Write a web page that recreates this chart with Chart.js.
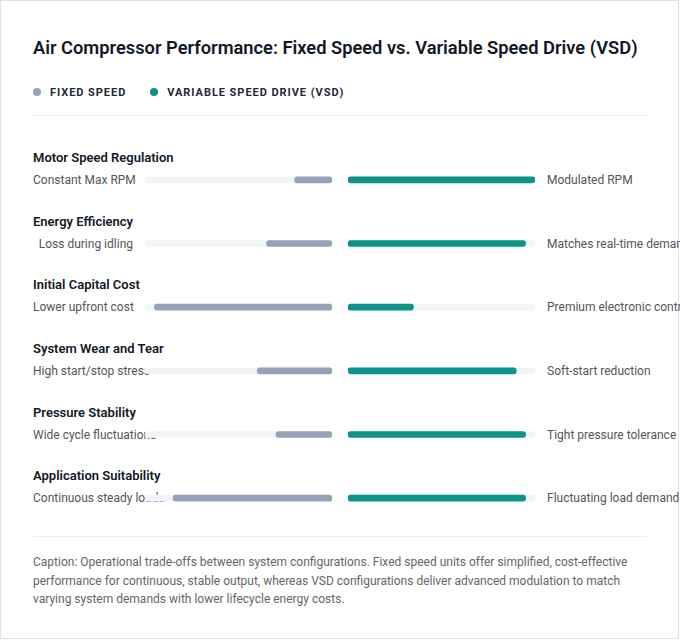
<!DOCTYPE html>
<html>
<head>
<meta charset="utf-8">
<script src="https://cdn.jsdelivr.net/npm/chart.js@4.4.1/dist/chart.umd.min.js"></script>
<style>
  html, body { margin: 0; padding: 0; background: #fff; }
  body { font-family: "Segoe UI", Roboto, "Noto Sans", sans-serif; }
  .card {
    position: absolute; left: 0; top: 0; width: 677px; height: 637px;
    border: 1px solid #e2e2e2; background: #fff;
  }
  .title {
    position: absolute; left: 32px; top: 34px; font-size: 18.3px; font-weight: 600;
    color: #111827; white-space: nowrap; line-height: 26px;
  }
  .legend { position: absolute; left: 32px; top: 82px; height: 18px; display: flex; align-items: center; }
  .legend .item { display: flex; align-items: center; margin-right: 24px; font-size: 11px; font-weight: 700;
    letter-spacing: 0.95px; color: #1f2937; }
  .legend .dot { width: 8px; height: 8px; border-radius: 50%; margin-right: 9px; }
  .sep { position: absolute; left: 32px; width: 614px; height: 1px; background: #eceef1; }
  .rowtitle { position: absolute; left: 32px; font-size: 13px; font-weight: 600; color: #111827;
    line-height: 18px; white-space: nowrap; }
  .lbl-left { position: absolute; left: 32px; width: 100px; text-align: right; font-size: 12px;
    color: #555; line-height: 18px; white-space: nowrap; }
  .lbl-right { position: absolute; left: 546px; font-size: 12px; color: #555; line-height: 18px; white-space: nowrap; }
  .wrap { position: absolute; top: 147px; height: 382px; z-index: 2; }
  .caption { position: absolute; left: 32px; top: 552px; width: 614px; font-size: 12px; color: #666;
    line-height: 18.5px; }
</style>
</head>
<body>
<div class="card" id="card">
  <div class="title">Air Compressor Performance: Fixed Speed vs. Variable Speed Drive (VSD)</div>
  <div class="legend">
    <div class="item"><span class="dot" style="background:#94a3b8"></span>FIXED SPEED</div>
    <div class="item"><span class="dot" style="background:#0d9488"></span>VARIABLE SPEED DRIVE (VSD)</div>
  </div>
  <div class="sep" style="top:114px"></div>
  <div class="wrap" style="left:144px;width:187px"><canvas id="leftChart"></canvas></div>
  <div class="wrap" style="left:347px;width:187px"><canvas id="rightChart"></canvas></div>
  <div class="sep" style="top:535px"></div>
  <div class="caption">Caption: Operational trade-offs between system configurations. Fixed speed units offer simplified, cost-effective performance for continuous, stable output, whereas VSD configurations deliver advanced modulation to match varying system demands with lower lifecycle energy costs.</div>
</div>
<script>
const categories = [
  "Motor Speed Regulation",
  "Energy Efficiency",
  "Initial Capital Cost",
  "System Wear and Tear",
  "Pressure Stability",
  "Application Suitability",
];
const fixedLabels = [
  "Constant Max RPM",
  "Loss during idling",
  "Lower upfront cost",
  "High start/stop stress",
  "Wide cycle fluctuations",
  "Continuous steady loads",
];
const vsdLabels = [
  "Modulated RPM",
  "Matches real-time demand",
  "Premium electronic controls",
  "Soft-start reduction",
  "Tight pressure tolerance",
  "Fluctuating load demand",
];
const fixedValues = [20, 35, 95, 40, 30, 85];
const vsdValues = [100, 95, 35, 90, 95, 95];
const trackValues = [100, 100, 100, 100, 100, 100];

const FIXED = "#94a3b8";
const VSD = "#0d9488";
const TRACK = "#f1f5f9";

// text for each row
const card = document.getElementById("card");
const top0 = 147, rowH = 382 / categories.length;
categories.forEach((c, i) => {
  const cy = top0 + rowH * (i + 0.5);
  const t = document.createElement("div");
  t.className = "rowtitle";
  t.style.top = (cy - 31) + "px";
  t.textContent = c;
  card.appendChild(t);
  const l = document.createElement("div");
  l.className = "lbl-left";
  l.style.top = (cy - 9) + "px";
  l.textContent = fixedLabels[i];
  card.appendChild(l);
  const r = document.createElement("div");
  r.className = "lbl-right";
  r.style.top = (cy - 9) + "px";
  r.textContent = vsdLabels[i];
  card.appendChild(r);
});

function makeChart(id, values, color, reverse) {
  return new Chart(document.getElementById(id), {
    type: "bar",
    data: {
      labels: categories,
      datasets: [
        { data: values, backgroundColor: color, barThickness: 6, borderRadius: 4, borderSkipped: false, grouped: false },
        { data: trackValues, backgroundColor: TRACK, barThickness: 6, borderRadius: 4, borderSkipped: false, grouped: false },
      ],
    },
    options: {
      indexAxis: "y",
      responsive: true,
      maintainAspectRatio: false,
      animation: false,
      layout: { padding: 0 },
      plugins: { legend: { display: false }, tooltip: { enabled: false } },
      scales: {
        x: { display: false, min: 0, max: 100, reverse: reverse },
        y: { display: false },
      },
    },
  });
}

makeChart("leftChart", fixedValues, FIXED, true);
makeChart("rightChart", vsdValues, VSD, false);
</script>
</body>
</html>
